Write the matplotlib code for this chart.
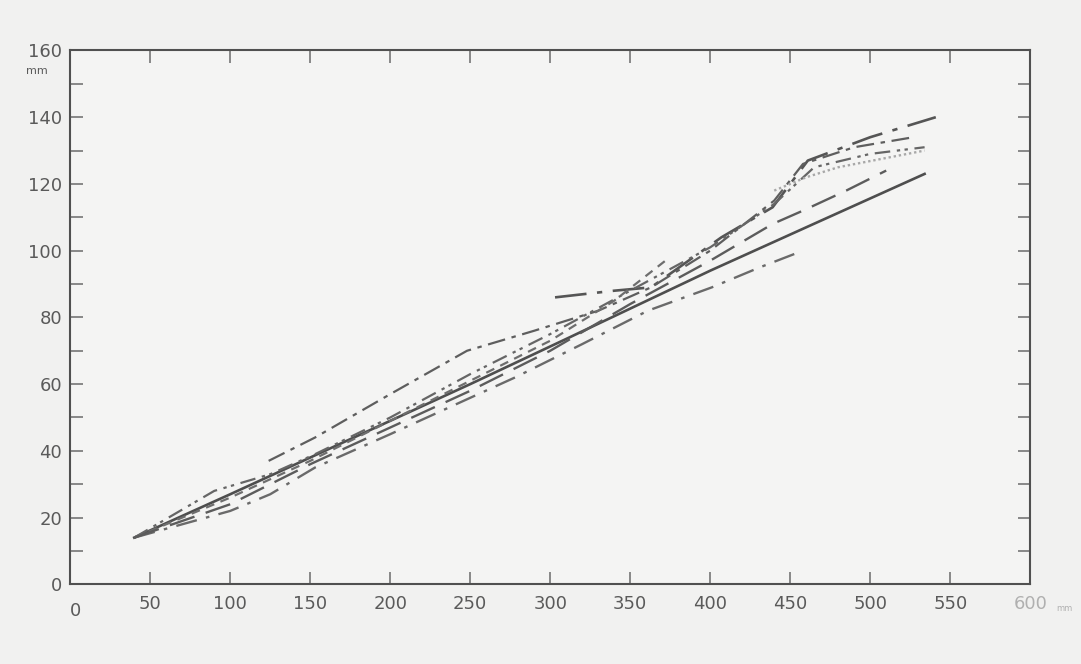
import numpy as np
import matplotlib.pyplot as plt

# values (mm)
x_solid = [40, 100, 150, 200, 250, 312, 400, 460, 534]
y_solid = [14, 27, 38, 49, 60, 74, 94, 107, 123]

x_low = [40, 100, 125, 153, 200, 278, 320, 361, 401, 431, 458]
y_low = [14, 22, 27, 35, 45, 62, 72, 82, 89, 95, 100]

x_late = [303, 340, 363, 407, 439, 461, 500, 541]
y_late = [86, 88, 89, 104, 113, 127, 134, 140]

x_mid = [124, 153, 200, 248, 290, 330, 363, 400, 440, 458, 490, 527]
y_mid = [37, 44, 57, 70, 76, 82, 89, 100, 115, 126, 131, 134]

x_top = [40, 90, 125, 153, 200, 250, 300, 350, 400, 440, 465, 500, 534]
y_top = [14, 28, 33, 39, 50, 63, 75, 88, 101, 114, 125, 129, 131]

x_short = [40, 100, 150, 200, 250, 300, 340, 372]
y_short = [14, 26, 37, 49, 61, 73, 85, 97]

x_dot = [440, 460, 480, 534]
y_dot = [118, 122, 125, 130]

x_long = [40, 100, 150, 200, 250, 300, 350, 400, 439, 458, 485, 510]
y_long = [14, 24, 36, 47, 58, 70, 84, 97, 108, 112, 118, 124]

fig = plt.figure(figsize=(10.81, 6.64), dpi=100)
fig.patch.set_facecolor('#f1f1f0')
ax = fig.add_axes([0.065, 0.12, 0.888, 0.804])
ax.set_facecolor('#f4f4f3')

ink = '#5a5a5a'
ax.plot(x_solid, y_solid, color='#4e4e4e', lw=1.9, ls='-')
ax.plot(x_low, y_low, color='#6a6a6a', lw=1.7, ls=(0, (9, 4, 1.5, 4)))
ax.plot(x_late, y_late, color='#555555', lw=1.9, ls=(0, (12, 4, 2, 4)))
ax.plot(x_mid, y_mid, color='#5e5e5e', lw=1.6, ls=(0, (8, 3, 2, 3)))
ax.plot(x_top, y_top, color='#666666', lw=1.6, ls=(0, (7, 3, 1.5, 2, 1.5, 3)))
ax.plot(x_short, y_short, color='#6e6e6e', lw=1.6, ls=(0, (4, 3)))
ax.plot(x_dot, y_dot, color='#a8a8a8', lw=1.7, ls=(0, (1, 1.2)))
ax.plot(x_long, y_long, color='#5c5c5c', lw=1.7, ls=(0, (11, 5)))

ax.set_xlim(0, 600)
ax.set_ylim(0, 160)
ax.set_xticks(np.arange(0, 601, 50))
ax.set_yticks(np.arange(0, 161, 10))
ax.set_xticklabels(['', '50', '100', '150', '200', '250', '300', '350',
                    '400', '450', '500', '550', '600'])
ax.set_yticklabels(['' if v % 20 else str(v) for v in range(0, 161, 10)])
ax.tick_params(direction='in', length=9, width=1.1, color='#6a6a6a',
               labelcolor=ink, labelsize=13, top=True, right=True)
ax.tick_params(axis='x', pad=8)
ax.tick_params(axis='y', pad=6)
ax.get_xticklabels()[-1].set_color('#b0b0b0')
for s in ax.spines.values():
    s.set_color('#505050')
    s.set_linewidth(1.5)

# the x axis zero sits below the corner, the y one carries the tick label
ax.text(0.005, -0.05, '0', transform=ax.transAxes, ha='center', va='center',
        fontsize=13, color=ink)
ax.text(-0.035, 0.962, 'mm', transform=ax.transAxes, ha='center', va='center',
        fontsize=8, color=ink)
ax.text(1.027, -0.046, 'mm', transform=ax.transAxes, ha='left', va='center',
        fontsize=6, color='#b0b0b0')

fig.savefig('out.png', dpi=100, facecolor=fig.get_facecolor())
